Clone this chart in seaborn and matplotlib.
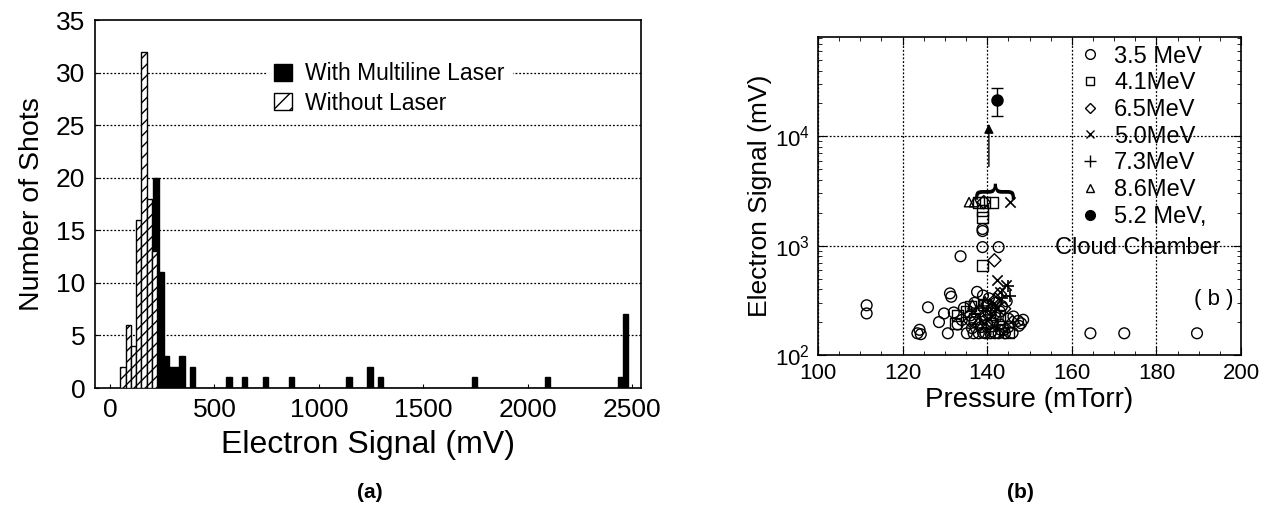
import matplotlib
matplotlib.use("Agg")
import matplotlib.pyplot as plt
import matplotlib.ticker as mticker
from matplotlib.patches import Patch
from matplotlib.lines import Line2D
import seaborn as sns

# --- panel (a): shot histogram (bin centres in mV, counts) ---
without_signal = [62.5, 87.5, 112.5, 137.5, 162.5, 187.5, 212.5]
without_counts = [2, 6, 4, 16, 32, 18, 13]
with_signal = [220, 245, 270, 295, 320, 345, 395, 570, 645, 745, 870,
               1145, 1245, 1295, 1745, 2095, 2445, 2470]
with_counts = [20, 11, 3, 2, 2, 3, 2, 1, 1, 1, 1, 1, 2, 1, 1, 1, 1, 7]

# --- panel (b): electron signal vs pressure ---
p_35 = [111.5, 111.5, 123.5, 124.0, 124.3, 126.0, 128.6, 129.8, 130.7, 131.2,
        131.5, 132.1, 133.7, 134.0, 135.2, 136.4, 137.6, 138.0, 138.4, 139.6,
        139.6, 140.4, 141.2, 141.9, 142.7, 143.5, 144.6, 145.0, 146.2, 147.3,
        148.0, 164.4, 172.4, 189.6, 138.9, 138.9, 138.9, 142.7, 137.0, 139.0,
        140.0, 141.0, 142.0, 143.0, 144.0, 145.0, 146.0, 133.0, 134.5, 136.0,
        137.0, 138.5, 140.0, 141.0, 142.0, 143.0, 147.5, 148.5, 139.0, 140.8,
        141.8, 143.2, 136.8, 144.2]
s_35 = [240, 285, 158, 170, 155, 273, 200, 240, 158, 366,
        341, 245, 800, 209, 158, 176, 378, 158, 250, 230,
        158, 330, 200, 240, 158, 280, 310, 215, 225, 205,
        195, 158, 158, 158, 1420, 1360, 970, 970, 300, 350,
        280, 260, 220, 190, 170, 180, 160, 190, 270, 230,
        200, 180, 190, 165, 300, 250, 185, 210, 160, 158,
        158, 170, 158, 158]
p_41 = [138.0, 139.5, 141.2, 138.9, 138.9, 138.9, 133.0, 135.0, 137.0, 139.0,
        141.0, 143.0, 145.0, 132.5, 136.0]
s_41 = [2500, 2500, 2500, 2090, 1820, 660, 230, 250, 215, 290,
        185, 230, 160, 195, 280]
p_65 = [141.7, 139.2, 136.0, 138.0, 140.5, 142.0, 144.0, 146.0, 143.0]
s_65 = [735, 2500, 205, 190, 240, 320, 265, 200, 360]
p_50 = [145.4, 142.4, 144.4, 143.0, 141.5, 143.8, 140.0, 142.0]
s_50 = [2500, 484, 435, 380, 300, 158, 210, 270]
p_73 = [144.8, 143.5, 145.5, 141.0, 139.0, 142.5]
s_73 = [425, 330, 350, 230, 270, 190]
p_86 = [135.7, 136.9, 137.5, 139.5, 138.0, 136.5]
s_86 = [2500, 2500, 260, 310, 210, 290]
cloud_p = [142.3]
cloud_s = [21500]
cloud_err_lo = [6300]
cloud_err_hi = [6100]

sns.set_style("ticks")
plt.rcParams['font.family'] = ['Liberation Sans', 'DejaVu Sans']
plt.rcParams['hatch.linewidth'] = 1.0
for key in ["text.color", "axes.labelcolor", "xtick.color", "ytick.color", "axes.edgecolor"]:
    plt.rcParams[key] = "black"

fig = plt.figure(figsize=(12.62, 5.15), dpi=100)
ax1 = fig.add_axes([95 / 1262, 127 / 515, 546 / 1262, 368 / 515])
ax2 = fig.add_axes([818 / 1262, 160 / 515, 423 / 1262, 318 / 515])

# ---------------- panel (a) ----------------
sns.histplot(x=with_signal, weights=with_counts, binwidth=25,
             binrange=(207.5, 2482.5), color="black", edgecolor="black",
             linewidth=1, alpha=1, ax=ax1, zorder=2)
sns.histplot(x=without_signal, weights=without_counts, binwidth=25,
             binrange=(50, 225), color="white", edgecolor="black",
             linewidth=1, alpha=1, hatch="///", ax=ax1, zorder=3)

ax1.set_xlim(-72, 2543)
ax1.set_ylim(0, 35)
ax1.set_xticks([0, 500, 1000, 1500, 2000, 2500])
ax1.set_yticks(range(0, 36, 5))
for y in range(5, 35, 5):
    ax1.axhline(y, color="black", lw=0.9, ls=(0, (1.5, 1.5)), zorder=1)
ax1.tick_params(direction="in", length=3, labelsize=19, pad=7)
ax1.set_xlabel("Electron Signal (mV)", fontsize=23, labelpad=6)
ax1.set_ylabel("Number of Shots", fontsize=20.5, labelpad=8)
for sp in ax1.spines.values():
    sp.set_linewidth(1.2)

leg_a = [Patch(facecolor="black", edgecolor="black", label="With Multiline Laser"),
         Patch(facecolor="white", edgecolor="black", hatch="//", label="Without Laser")]
lg = ax1.legend(handles=leg_a, loc="upper left", bbox_to_anchor=(0.295, 0.935),
                fontsize=16.5, frameon=True, fancybox=False, edgecolor="white",
                facecolor="white", framealpha=1, handlelength=0.75,
                handleheight=0.75, handletextpad=0.6, labelspacing=0.28,
                borderpad=0.3)
lg.set_zorder(5)

# ---------------- panel (b) ----------------
open_kw = dict(facecolor="none", edgecolor="black", linewidth=1, s=60, ax=ax2, zorder=3)
sns.scatterplot(x=p_35, y=s_35, marker="o", **open_kw)
sns.scatterplot(x=p_41, y=s_41, marker="s", **open_kw)
sns.scatterplot(x=p_65, y=s_65, marker="D", **dict(open_kw, s=45))
sns.scatterplot(x=p_50, y=s_50, marker="x", color="black", linewidth=1.2, s=55, ax=ax2, zorder=3)
sns.scatterplot(x=p_73, y=s_73, marker="+", color="black", linewidth=1.2, s=70, ax=ax2, zorder=3)
sns.scatterplot(x=p_86, y=s_86, marker="^", **dict(open_kw, s=45))
ax2.errorbar(cloud_p, cloud_s, yerr=[cloud_err_lo, cloud_err_hi], fmt="o",
             color="black", ms=8, capsize=4, elinewidth=1, zorder=4)

# arrow from the bracketed group up to the cloud chamber point
ax2.annotate("", xy=(140.4, 13800), xytext=(140.4, 5000),
             arrowprops=dict(arrowstyle="-|>", color="black", lw=1,
                             mutation_scale=14))
ax2.text(141.0, 3500, "}", rotation=90, ha="center", va="center",
         fontsize=30, family="DejaVu Sans")

ax2.set_xlim(100, 200)
ax2.set_yscale("log")
ax2.set_ylim(100, 81000)
ax2.set_xticks(range(100, 201, 20))
ax2.xaxis.set_minor_locator(mticker.MultipleLocator(5))
ax2.grid(True, which="major", color="black", lw=0.9, ls=(0, (1.5, 1.5)))
ax2.set_axisbelow(True)
ax2.tick_params(which="both", direction="in", top=True, right=True)
ax2.tick_params(which="major", length=6, labelsize=16, pad=6)
ax2.tick_params(which="minor", length=3)
ax2.set_xlabel("Pressure (mTorr)", fontsize=20, labelpad=2)
ax2.set_ylabel("Electron Signal (mV)", fontsize=19, labelpad=2)
for sp in ax2.spines.values():
    sp.set_linewidth(1.2)

leg_b = [Line2D([], [], ls="", marker="o", mfc="none", mec="black", ms=7, label="3.5 MeV"),
         Line2D([], [], ls="", marker="s", mfc="none", mec="black", ms=6, label="4.1MeV"),
         Line2D([], [], ls="", marker="D", mfc="none", mec="black", ms=5.5, label="6.5MeV"),
         Line2D([], [], ls="", marker="x", color="black", ms=6, label="5.0MeV"),
         Line2D([], [], ls="", marker="+", color="black", ms=9, label="7.3MeV"),
         Line2D([], [], ls="", marker="^", mfc="none", mec="black", ms=5.5, label="8.6MeV"),
         Line2D([], [], ls="", marker="o", color="black", ms=7, label="5.2 MeV,")]
ax2.legend(handles=leg_b, loc="upper left", bbox_to_anchor=(0.58, 1.025),
           fontsize=17, frameon=False, handlelength=0.9, handletextpad=0.55,
           labelspacing=0.2, borderpad=0.2)
ax2.text(0.56, 0.338, "Cloud Chamber", transform=ax2.transAxes, fontsize=17,
         ha="left", va="center")
ax2.text(0.936, 0.173, "( b )", transform=ax2.transAxes, fontsize=16,
         ha="center", va="center")

fig.text(370 / 1262, 1 - 493 / 515, "(a)", fontsize=15, fontweight="bold",
         ha="center", va="center")
fig.text(1020 / 1262, 1 - 493 / 515, "(b)", fontsize=15, fontweight="bold",
         ha="center", va="center")

fig.savefig("out.png", dpi=100)
plt.close(fig)
